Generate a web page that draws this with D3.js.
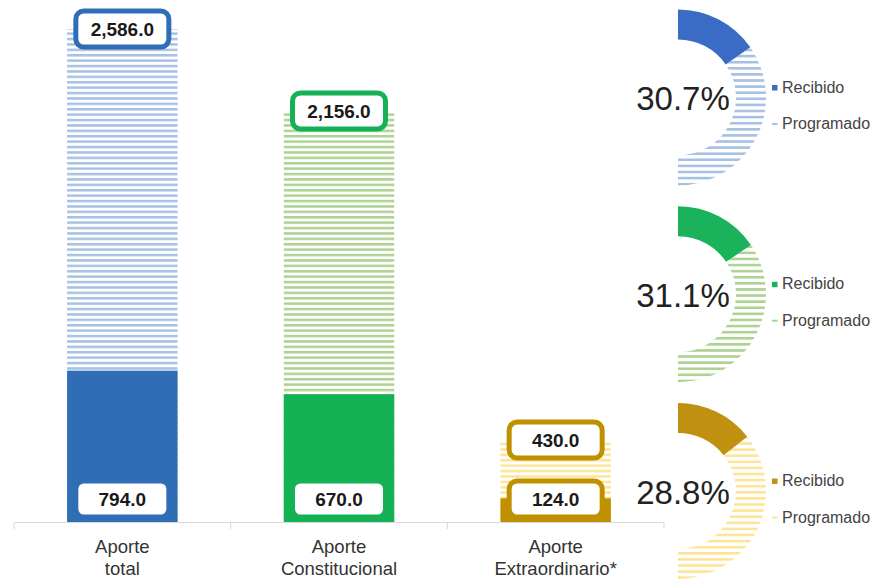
<!DOCTYPE html>
<html>
<head>
<meta charset="utf-8">
<script src="https://cdn.jsdelivr.net/npm/d3@7"></script>
<style>
  html, body { margin: 0; padding: 0; background: #ffffff; }
  svg { display: block; font-family: "Liberation Sans", Arial, Helvetica, sans-serif; }
</style>
</head>
<body>
<svg id="chart" width="876" height="584"></svg>
<script>
// ---- data ----
const categories = [["Aporte", "total"], ["Aporte", "Constitucional"], ["Aporte", "Extraordinario*"]];
const programado = [2586.0, 2156.0, 430.0];
const recibido = [794.0, 670.0, 124.0];
const porcentajes = [30.7, 31.1, 28.8];
const legendLabels = ["Recibido", "Programado"];

// ---- styles ----
const solidColors = ["#2f6eb5", "#14b155", "#bf9000"];
const donutColors = ["#3a6cc5", "#1ab25a", "#c09010"];
const hatchColors = ["#a7c1e4", "#acd391", "#fde497"];
const fmt = d3.format(",.1f");

const svg = d3.select("#chart");
const defs = svg.append("defs");

// hatch patterns
function makePattern(id, color, period, thick) {
  const p = defs.append("pattern")
    .attr("id", id)
    .attr("patternUnits", "userSpaceOnUse")
    .attr("width", 10).attr("height", period);
  p.append("rect").attr("width", 10).attr("height", period).attr("fill", "#ffffff");
  p.append("rect").attr("y", 0).attr("width", 10).attr("height", thick).attr("fill", color);
}
hatchColors.forEach((c, i) => {
  makePattern("hb" + i, c, 5.4, 2.5);
  makePattern("hd" + i, c, 6.1, 2.6);
});

// ---- scales ----
const x = d3.scaleBand()
  .domain(d3.range(categories.length))
  .range([14, 664])
  .paddingInner(0.49)
  .paddingOuter(0.245);

const y = d3.scaleLinear()
  .domain([0, d3.max(programado)])
  .range([522, 29]);

// ---- axis ----
const axisG = svg.append("g").attr("transform", `translate(0,${y(0)})`);
axisG.call(d3.axisBottom(x).tickSize(0).tickSizeOuter(0).tickFormat(""));
axisG.select(".domain").attr("stroke", "#d9d9d9").attr("stroke-width", 1.2);
axisG.selectAll(".tick").remove();
// boundary ticks
d3.range(categories.length + 1).forEach(i => {
  const bx = x.range()[0] + x.step() * i;
  axisG.append("line")
    .attr("x1", bx).attr("x2", bx)
    .attr("y1", 0).attr("y2", 7)
    .attr("stroke", "#d9d9d9").attr("stroke-width", 1);
});
// category labels
categories.forEach((lines, i) => {
  const t = svg.append("text")
    .attr("x", x(i) + x.bandwidth() / 2)
    .attr("y", 553)
    .attr("text-anchor", "middle")
    .attr("font-size", 18.5)
    .attr("fill", "#333333");
  lines.forEach((ln, j) => {
    t.append("tspan")
      .attr("x", x(i) + x.bandwidth() / 2)
      .attr("dy", j === 0 ? 0 : 22)
      .text(ln);
  });
});

// ---- bars ----
const bars = svg.append("g");
bars.selectAll("rect.prog")
  .data(programado)
  .join("rect")
  .attr("class", "prog")
  .attr("x", (d, i) => x(i))
  .attr("y", d => y(d))
  .attr("width", x.bandwidth())
  .attr("height", d => y(0) - y(d))
  .attr("fill", (d, i) => `url(#hb${i})`);

bars.selectAll("rect.rec")
  .data(recibido)
  .join("rect")
  .attr("class", "rec")
  .attr("x", (d, i) => x(i))
  .attr("y", d => y(d))
  .attr("width", x.bandwidth())
  .attr("height", d => y(0) - y(d))
  .attr("fill", (d, i) => solidColors[i]);

// ---- labels (boxes) ----
const boxW = 98, boxH = 41;
function labelBox(cx, cy, text, color) {
  const g = svg.append("g");
  g.append("rect")
    .attr("x", cx - boxW / 2 + 2.5)
    .attr("y", cy - boxH / 2 + 2.5)
    .attr("width", boxW - 5)
    .attr("height", boxH - 5)
    .attr("rx", 8).attr("ry", 8)
    .attr("fill", "#ffffff")
    .attr("stroke", color)
    .attr("stroke-width", 5);
  g.append("text")
    .attr("x", cx)
    .attr("y", cy + 7)
    .attr("text-anchor", "middle")
    .attr("font-size", 19)
    .attr("font-weight", "bold")
    .attr("fill", "#1a1a1a")
    .text(text);
}
programado.forEach((v, i) => {
  labelBox(x(i) + x.bandwidth() / 2, y(v), fmt(v), solidColors[i]);
});
recibido.forEach((v, i) => {
  labelBox(x(i) + x.bandwidth() / 2, y(0) - 23, fmt(v), solidColors[i]);
});

// ---- donuts ----
const cy = d3.scalePoint().domain(d3.range(porcentajes.length)).range([97.5, 491]);
const donutX = 678;
const pie = d3.pie().sort(null).startAngle(0).endAngle(Math.PI);
const arc = d3.arc().innerRadius(58).outerRadius(88);

porcentajes.forEach((p, i) => {
  const g = svg.append("g").attr("transform", `translate(${donutX},${cy(i)})`);
  const arcs = pie([p, 100 - p]);
  g.append("path").attr("d", arc(arcs[1])).attr("fill", `url(#hd${i})`);
  g.append("path").attr("d", arc(arcs[0])).attr("fill", donutColors[i]);

  svg.append("text")
    .attr("x", 683)
    .attr("y", cy(i) + 12.5)
    .attr("text-anchor", "middle")
    .attr("font-size", 33)
    .attr("fill", "#222222")
    .text(d3.format(".1f")(p) + "%");

  // legend
  const lg = svg.append("g").attr("transform", `translate(772,${cy(i)})`);
  lg.append("rect").attr("x", 0).attr("y", -12.5).attr("width", 5.5).attr("height", 5.5)
    .attr("fill", donutColors[i]);
  lg.append("rect").attr("x", 0).attr("y", 25.5).attr("width", 5.5).attr("height", 2)
    .attr("fill", hatchColors[i]);
  lg.append("text").attr("x", 10).attr("y", -5)
    .attr("font-size", 16).attr("fill", "#444444").text(legendLabels[0]);
  lg.append("text").attr("x", 10).attr("y", 31.5)
    .attr("font-size", 16).attr("fill", "#444444").text(legendLabels[1]);
});
</script>
</body>
</html>
